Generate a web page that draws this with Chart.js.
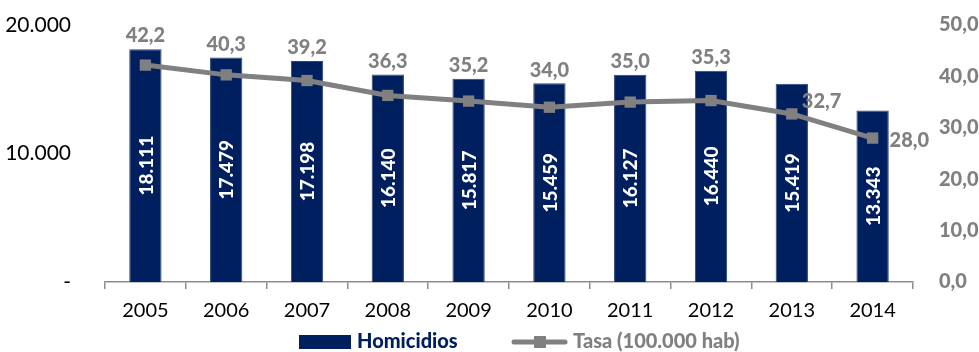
<!DOCTYPE html>
<html>
<head>
<meta charset="utf-8">
<script src="https://cdn.jsdelivr.net/npm/chart.js@4"></script>
<style>
  html, body { margin: 0; padding: 0; background: #fff; }
  #wrap { width: 979px; height: 352px; }
</style>
</head>
<body>
<div id="wrap"><canvas id="chart" width="979" height="352"></canvas></div>
<script>
// datos
const years = ['2005', '2006', '2007', '2008', '2009', '2010', '2011', '2012', '2013', '2014'];
const homicidios = [18111, 17479, 17198, 16140, 15817, 15459, 16127, 16440, 15419, 13343];
const tasa = [42.2, 40.3, 39.2, 36.3, 35.2, 34.0, 35.0, 35.3, 32.7, 28.0];
const leftTicks = [0, 10000, 20000];
const rightTicks = [0, 10, 20, 30, 40, 50];

const NAVY = '#001F5F';
const GRAY = '#808080';
const FONT = 'Lato, "Open Sans", sans-serif';

function fmtMiles(v) {
  return String(v).replace(/\B(?=(\d{3})+(?!\d))/g, '.');
}
function fmtDec(v) {
  return v.toFixed(1).replace('.', ',');
}

// etiquetas de datos
const labelsPlugin = {
  id: 'labelsPlugin',
  afterDatasetsDraw(chart) {
    const ctx = chart.ctx;
    const bars = chart.getDatasetMeta(0).data;
    const pts = chart.getDatasetMeta(1).data;

    ctx.save();
    ctx.font = '900 19px ' + FONT;
    ctx.fillStyle = '#ffffff';
    ctx.textAlign = 'center';
    ctx.textBaseline = 'middle';
    bars.forEach((b, i) => {
      const cy = (b.y + b.base) / 2;
      ctx.save();
      ctx.translate(b.x, cy);
      ctx.rotate(-Math.PI / 2);
      ctx.fillText(fmtMiles(homicidios[i]), 0, 1);
      ctx.restore();
    });

    ctx.fillStyle = GRAY;
    ctx.font = '900 20px ' + FONT;
    pts.forEach((p, i) => {
      const txt = fmtDec(tasa[i]);
      if (i >= tasa.length - 2) {
        ctx.textAlign = 'left';
        const dy = i === tasa.length - 1 ? 2 : -12;
        const dx = i === tasa.length - 1 ? 17 : 10;
        ctx.fillText(txt, p.x + dx, p.y + dy);
      } else {
        ctx.textAlign = 'center';
        const y = Math.min(p.y - 30, bars[i].y - 13);
        ctx.fillText(txt, p.x, y);
      }
    });
    ctx.restore();
  }
};

// leyenda
const legendPlugin = {
  id: 'legendPlugin',
  afterDraw(chart) {
    const ctx = chart.ctx;
    ctx.save();
    ctx.fillStyle = NAVY;
    ctx.fillRect(299, 335, 52, 14);
    ctx.font = '900 20px ' + FONT;
    ctx.textBaseline = 'middle';
    ctx.textAlign = 'left';
    ctx.fillText('Homicidios', 357, 342);

    ctx.strokeStyle = GRAY;
    ctx.lineWidth = 5;
    ctx.lineCap = 'round';
    ctx.beginPath();
    ctx.moveTo(514, 342);
    ctx.lineTo(565, 342);
    ctx.stroke();
    ctx.fillStyle = GRAY;
    ctx.fillRect(534, 336, 12, 12);
    ctx.fillText('Tasa (100.000 hab)', 573, 342);
    ctx.restore();
  }
};

new Chart(document.getElementById('chart'), {
  data: {
    labels: years,
    datasets: [
      {
        type: 'bar',
        label: 'Homicidios',
        data: homicidios,
        backgroundColor: NAVY,
        borderColor: '#2c4478',
        borderWidth: 1,
        barPercentage: 0.4,
        categoryPercentage: 1,
        yAxisID: 'y',
        order: 2
      },
      {
        type: 'line',
        label: 'Tasa (100.000 hab)',
        data: tasa,
        borderColor: GRAY,
        backgroundColor: GRAY,
        borderWidth: 5,
        pointStyle: 'rect',
        pointRadius: 8,
        pointBorderWidth: 0,
        tension: 0,
        yAxisID: 'y1',
        order: 1
      }
    ]
  },
  options: {
    responsive: false,
    animation: false,
    devicePixelRatio: 1,
    layout: { padding: { top: 25, left: 0, right: 0, bottom: 0 } },
    plugins: {
      legend: { display: false },
      tooltip: { enabled: false }
    },
    scales: {
      x: {
        offset: true,
        grid: {
          display: true,
          offset: true,
          drawOnChartArea: false,
          drawTicks: true,
          tickLength: 7,
          color: '#8c8c8c',
          lineWidth: 1.5
        },
        border: { display: true, color: '#8c8c8c', width: 1.5 },
        ticks: {
          color: '#000',
          font: { family: FONT, size: 20 },
          padding: 10,
          maxRotation: 0
        },
        afterFit(scale) { scale.height = 70; }
      },
      y: {
        position: 'left',
        min: 0,
        max: 20000,
        afterBuildTicks(scale) { scale.ticks = leftTicks.map(v => ({ value: v })); },
        grid: { display: false },
        border: { display: false },
        ticks: {
          color: '#000',
          font: { family: FONT, size: 21 },
          padding: 26,
          callback: v => v === 0 ? '-' : fmtMiles(v)
        },
        afterFit(scale) {
          scale.width = 105;
          scale.paddingTop = 12;
          scale.paddingBottom = 12;
        }
      },
      y1: {
        position: 'right',
        min: 0,
        max: 50,
        afterBuildTicks(scale) { scale.ticks = rightTicks.map(v => ({ value: v })); },
        grid: { display: false },
        border: { display: false },
        ticks: {
          color: GRAY,
          font: { family: FONT, size: 20, weight: '900' },
          padding: 18,
          callback: v => fmtDec(v)
        },
        afterFit(scale) {
          scale.width = 66;
          scale.paddingTop = 12;
          scale.paddingBottom = 12;
        }
      }
    }
  },
  plugins: [labelsPlugin, legendPlugin]
});
</script>
</body>
</html>
